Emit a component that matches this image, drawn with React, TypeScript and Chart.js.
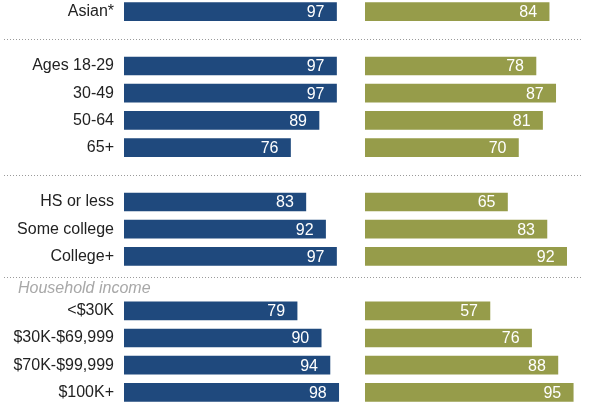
import React, { useEffect, useRef } from 'react';
import { Chart, registerables } from 'chart.js';

Chart.register(...registerables);

const categories = [
  'Asian*', '', 'Ages 18-29', '30-49', '50-64', '65+', '',
  'HS or less', 'Some college', 'College+', '',
  '<$30K', '$30K-$69,999', '$70K-$99,999', '$100K+',
];
const leftValues = [97, null, 97, 97, 89, 76, null, 83, 92, 97, null, 79, 90, 94, 98];
const rightValues = [84, null, 78, 87, 81, 70, null, 65, 83, 92, null, 57, 76, 88, 95];
const separatorSlots = [1, 6, 10];
const groupLabel = 'Household income';
const groupLabelSlot = 10;

const FONT = '"Liberation Sans", Arial, sans-serif';

const overlay = {
  id: 'overlay',
  afterDatasetsDraw(chart: any) {
    const ctx = chart.ctx;
    const yScale = chart.scales.y;
    const step = yScale.getPixelForValue(1) - yScale.getPixelForValue(0);
    ctx.save();
    chart.data.datasets.forEach((ds: any, di: number) => {
      const meta = chart.getDatasetMeta(di);
      meta.data.forEach((el: any, i: number) => {
        const v = ds.data[i];
        if (v == null) return;
        ctx.font = '16px ' + FONT;
        ctx.fillStyle = '#ffffff';
        ctx.textAlign = 'right';
        ctx.textBaseline = 'middle';
        ctx.fillText(String(v), el.x - 12, el.y + 1);
      });
    });
    ctx.strokeStyle = '#9a9a9a';
    ctx.lineWidth = 1;
    ctx.setLineDash([1, 2]);
    separatorSlots.forEach((s) => {
      let y = yScale.getPixelForValue(s);
      if (s === groupLabelSlot) y -= step * 0.23;
      y = Math.round(y) + 0.5;
      ctx.beginPath();
      ctx.moveTo(4, y);
      ctx.lineTo(583, y);
      ctx.stroke();
    });
    ctx.setLineDash([]);
    const gy = yScale.getPixelForValue(groupLabelSlot) + step * 0.17;
    ctx.font = 'italic 16px ' + FONT;
    ctx.fillStyle = '#a8a8a8';
    ctx.textAlign = 'left';
    ctx.textBaseline = 'middle';
    ctx.fillText(groupLabel, 18, gy);
    ctx.restore();
  },
};

const zeroX = (scale: any) => {
  scale.height = 0;
  scale.paddingLeft = 0;
  scale.paddingRight = 0;
  scale.paddingTop = 0;
  scale.paddingBottom = 0;
};

export default function App() {
  const ref = useRef<HTMLCanvasElement | null>(null);
  useEffect(() => {
    if (!ref.current) return;
    const chart = new Chart(ref.current, {
      type: 'bar',
      data: {
        labels: categories,
        datasets: [
          {
            data: leftValues as any,
            xAxisID: 'x',
            backgroundColor: '#1f497d',
            barThickness: 18,
            grouped: false,
          },
          {
            data: rightValues as any,
            xAxisID: 'x2',
            backgroundColor: '#969c4a',
            barThickness: 18,
            grouped: false,
          },
        ],
      },
      options: {
        indexAxis: 'y',
        animation: false,
        responsive: true,
        maintainAspectRatio: false,
        layout: { padding: { left: 0, right: 8, top: 0, bottom: 0 } },
        plugins: {
          legend: { display: false },
          tooltip: { enabled: false },
        },
        scales: {
          y: {
            type: 'category',
            grid: { display: false, drawTicks: false },
            border: { display: false },
            ticks: {
              autoSkip: false,
              padding: 10,
              color: '#222222',
              font: { size: 16, family: FONT },
            },
            afterFit: (scale: any) => {
              scale.width = 124;
              scale.paddingTop = 0;
              scale.paddingBottom = 0;
              scale.paddingLeft = 0;
              scale.paddingRight = 0;
            },
          },
          x: {
            type: 'linear',
            position: 'bottom',
            stack: 'panels',
            stackWeight: 241,
            min: 0,
            max: 110,
            display: false,
            afterFit: zeroX,
          },
          x2: {
            type: 'linear',
            position: 'bottom',
            stack: 'panels',
            stackWeight: 217,
            min: 0,
            max: 99,
            display: false,
            afterFit: zeroX,
          },
        },
      } as any,
      plugins: [overlay],
    });
    return () => chart.destroy();
  }, []);
  return (
    <div style={{ position: 'fixed', left: 0, top: -2, width: 590, height: 408 }}>
      <canvas ref={ref} />
    </div>
  );
}
